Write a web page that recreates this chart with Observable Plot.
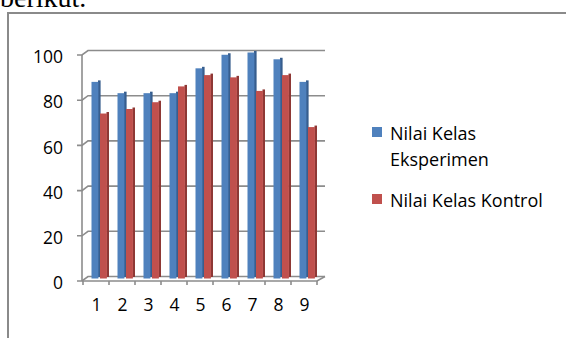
<!DOCTYPE html>
<html>
<head>
<meta charset="utf-8">
<script src="https://cdn.jsdelivr.net/npm/d3@7"></script>
<script src="https://cdn.jsdelivr.net/npm/@observablehq/plot@0.6"></script>
<style>
  html, body { margin: 0; padding: 0; background: #fff; width: 566px; height: 338px; overflow: hidden; }
  #page { position: relative; width: 566px; height: 338px; }
  #lead { position: absolute; left: 0; top: -18px; font-family: "Liberation Serif", serif; font-size: 28px; line-height: 32px; color: #000; white-space: nowrap; }
  #box { position: absolute; left: 7px; top: 12px; width: 700px; height: 400px; border-left: 2px solid #8a8a8a; border-top: 2px solid #8a8a8a; }
  #chart { position: absolute; left: 0; top: 0; }
  #legend { position: absolute; left: 372px; top: 120px; font-family: "Open Sans", sans-serif; font-size: 18px; line-height: 26px; color: #000; }
  .item { position: relative; padding-left: 18px; margin-bottom: 15px; }
  .sw { position: absolute; left: 0; top: 7px; width: 10px; height: 10px; }
</style>
</head>
<body>
<div id="page">
  <div id="lead">berikut.</div>
  <div id="box"></div>
  <div id="chart"></div>
  <div id="legend"></div>
</div>
<script>
const categories = [1, 2, 3, 4, 5, 6, 7, 8, 9];
const eksperimen = [87, 82, 82, 82, 93, 99, 100, 97, 87];
const kontrol = [73, 75, 78, 85, 90, 89, 83, 90, 67];
const yTicks = [0, 20, 40, 60, 80, 100];
const seriesNames = ["Nilai Kelas Eksperimen", "Nilai Kelas Kontrol"];
const legendLines = [["Nilai Kelas", "Eksperimen"], ["Nilai Kelas Kontrol"]];
const faceColors = ["#4F81BD", "#C0504D"];
const sideColors = ["#375E8E", "#8E3835"];

const rows = categories.flatMap((c, i) => [
  {cat: c, series: seriesNames[0], value: eksperimen[i]},
  {cat: c, series: seriesNames[1], value: kontrol[i]}
]);
const expRows = rows.filter(d => d.series === seriesNames[0]);
const konRows = rows.filter(d => d.series === seriesNames[1]);

const DX = 6, DY = 4.5;
const gridColor = "#8c8c8c";

// 3D frame: front axis, diagonals to back wall, back gridlines, floor and ticks
function frame3d(index, scales, values, dims) {
  const {x, y} = scales;
  const x0 = dims.marginLeft, x1 = dims.width - dims.marginRight;
  const g = d3.create("svg:g").attr("fill", "none").attr("stroke", gridColor).attr("stroke-width", 1.6);
  for (const t of yTicks) {
    const yy = y(t);
    g.append("path").attr("d", `M${x0 - 5},${yy}H${x0}L${x0 + DX},${yy - DY}H${x1 + DX + 2}`);
  }
  g.append("line").attr("x1", x0).attr("x2", x0).attr("y1", y(yTicks[yTicks.length - 1])).attr("y2", y(0));
  g.append("path").attr("d", `M${x0},${y(0)}H${x1}L${x1 + DX + 2},${y(0) - DY}`);
  const bounds = categories.map(c => x(c)).concat([x1]);
  for (const bx of bounds) g.append("line").attr("x1", bx).attr("x2", bx).attr("y1", y(0)).attr("y2", y(0) + 4);
  return g.node();
}

const chart = Plot.plot({
  width: 566,
  height: 338,
  marginLeft: 82,
  marginRight: 249,
  marginTop: 55,
  marginBottom: 57,
  style: {fontFamily: "'Open Sans', sans-serif", fontSize: "17.5px", background: "transparent", color: "#000"},
  x: {type: "band", domain: categories, padding: 0, axis: null},
  y: {domain: [0, 100], axis: null},
  marks: [
    frame3d,
    Plot.barY(expRows, {x: "cat", y: "value", fill: sideColors[0], insetLeft: 15, insetRight: 8.4, dy: -4}),
    Plot.barY(expRows, {x: "cat", y: "value", fill: faceColors[0], insetLeft: 8.5, insetRight: 10.6, dy: -2.5}),
    Plot.barY(konRows, {x: "cat", y: "value", fill: sideColors[1], insetLeft: 23.5, insetRight: 0, dy: -4}),
    Plot.barY(konRows, {x: "cat", y: "value", fill: faceColors[1], insetLeft: 17, insetRight: 2.1, dy: -2.5}),
    Plot.text(yTicks, {y: d => d, text: d => String(d), frameAnchor: "left", textAnchor: "end", dx: -19.5, dy: 2, fill: "#000"}),
    Plot.text(categories, {x: d => d, text: d => String(d), frameAnchor: "bottom", dy: 29, fill: "#000"})
  ]
});
document.getElementById("chart").append(chart);

const legend = document.getElementById("legend");
seriesNames.forEach((name, i) => {
  const item = document.createElement("div");
  item.className = "item";
  const sw = document.createElement("span");
  sw.className = "sw";
  sw.style.background = faceColors[i];
  item.append(sw);
  legendLines[i].forEach((line, j) => {
    if (j) item.append(document.createElement("br"));
    item.append(document.createTextNode(line));
  });
  legend.append(item);
});
</script>
</body>
</html>
